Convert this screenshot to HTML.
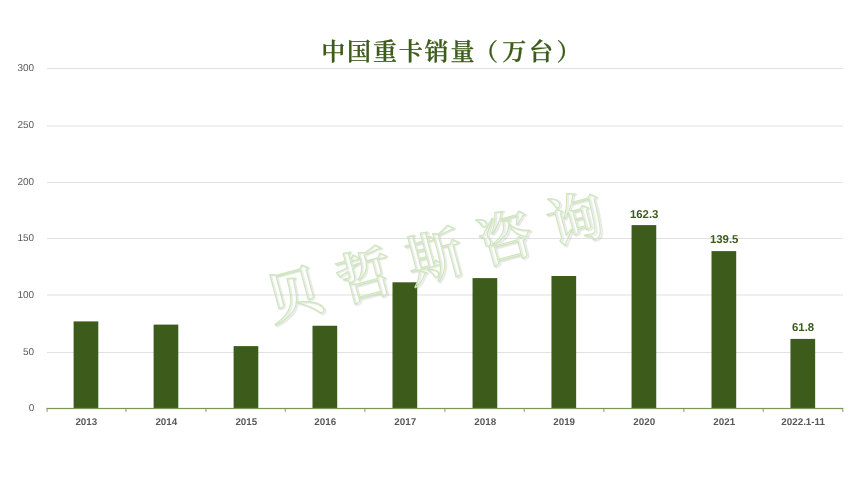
<!DOCTYPE html>
<html lang="zh-CN">
<head>
<meta charset="utf-8">
<title>中国重卡销量（万台）</title>
<style>
html,body{margin:0;padding:0;background:#fff;}
body{width:865px;height:487px;overflow:hidden;}
svg{display:block;}
.yl{text-rendering:geometricPrecision;font-family:"Liberation Sans",sans-serif;font-size:10px;fill:#595959;text-anchor:end;}
.xl{text-rendering:geometricPrecision;font-family:"Liberation Sans",sans-serif;font-size:9.8px;font-weight:bold;fill:#595959;text-anchor:middle;}
.dl{text-rendering:geometricPrecision;font-family:"Liberation Sans",sans-serif;font-size:11.4px;font-weight:bold;fill:#3d5c1c;text-anchor:middle;}
.ttl{font-family:"Liberation Serif","Noto Serif CJK SC",serif;font-weight:600;font-size:24px;fill:#3d5c1c;stroke:#3d5c1c;stroke-width:0.25;}
.wm{font-family:"Liberation Serif","Noto Serif CJK SC",serif;font-weight:600;font-size:56px;fill:#ffffff;fill-opacity:.12;stroke:#cde6ba;stroke-width:1.15;}
.wms{font-family:"Liberation Serif","Noto Serif CJK SC",serif;font-weight:600;font-size:56px;fill:none;stroke:#9a9a9a;stroke-opacity:.26;stroke-width:1.6;}
</style>
</head>
<body>
<svg width="865" height="487" viewBox="0 0 865 487">
<defs><filter id="wb" x="-5%" y="-20%" width="110%" height="140%"><feGaussianBlur stdDeviation="0.7"/></filter></defs>
<rect x="0" y="0" width="865" height="487" fill="#ffffff"/>
<rect x="47" y="68.0" width="796" height="1" fill="#e1e1e1"/>
<rect x="47" y="125.0" width="796" height="2" fill="#efefef"/>
<rect x="47" y="182.0" width="796" height="1" fill="#e1e1e1"/>
<rect x="47" y="238.0" width="796" height="1" fill="#e1e1e1"/>
<rect x="47" y="294.0" width="796" height="2" fill="#efefef"/>
<rect x="47" y="352.0" width="796" height="1" fill="#e1e1e1"/>
<text class="yl" x="34.2" y="411">0</text>
<text class="yl" x="34.2" y="355">50</text>
<text class="yl" x="34.2" y="298">100</text>
<text class="yl" x="34.2" y="241">150</text>
<text class="yl" x="34.2" y="185">200</text>
<text class="yl" x="34.2" y="128">250</text>
<text class="yl" x="34.2" y="71">300</text>
<g transform="scale(1.0,1)"><text class="ttl" text-anchor="middle" x="333.20 359.05 384.90 410.75 436.60 462.45 486.10 514.15 540.90 568.45" y="59.6">中国重卡销量（万台）</text></g>
<rect x="73.60" y="321.40" width="24.7" height="87.10" fill="#3d5c1c"/>
<rect x="153.60" y="324.60" width="24.7" height="83.90" fill="#3d5c1c"/>
<rect x="233.60" y="346.10" width="24.7" height="62.40" fill="#3d5c1c"/>
<rect x="312.50" y="325.75" width="24.7" height="82.75" fill="#3d5c1c"/>
<rect x="392.50" y="282.30" width="24.7" height="126.20" fill="#3d5c1c"/>
<rect x="472.55" y="278.10" width="24.7" height="130.40" fill="#3d5c1c"/>
<rect x="551.45" y="276.00" width="24.7" height="132.50" fill="#3d5c1c"/>
<rect x="631.55" y="225.10" width="24.7" height="183.40" fill="#3d5c1c"/>
<rect x="711.50" y="251.10" width="24.7" height="157.40" fill="#3d5c1c"/>
<rect x="790.45" y="338.90" width="24.7" height="69.60" fill="#3d5c1c"/>
<rect x="46.5" y="407.9" width="796.8" height="1.2" fill="#7b9558"/>
<rect x="46.40" y="409.0" width="1.4" height="2.9" fill="#a3b78d"/>
<rect x="125.25" y="409.0" width="1.4" height="2.9" fill="#a3b78d"/>
<rect x="205.25" y="409.0" width="1.4" height="2.9" fill="#a3b78d"/>
<rect x="284.70" y="409.0" width="1.4" height="2.9" fill="#a3b78d"/>
<rect x="364.15" y="409.0" width="1.4" height="2.9" fill="#a3b78d"/>
<rect x="444.18" y="409.0" width="1.4" height="2.9" fill="#a3b78d"/>
<rect x="523.65" y="409.0" width="1.4" height="2.9" fill="#a3b78d"/>
<rect x="603.15" y="409.0" width="1.4" height="2.9" fill="#a3b78d"/>
<rect x="683.17" y="409.0" width="1.4" height="2.9" fill="#a3b78d"/>
<rect x="762.62" y="409.0" width="1.4" height="2.9" fill="#a3b78d"/>
<rect x="842.00" y="409.0" width="1.4" height="2.9" fill="#a3b78d"/>
<text class="xl" x="86.30" y="0" transform="translate(0 425.2) scale(1 1)">2013</text>
<text class="xl" x="166.30" y="0" transform="translate(0 425.2) scale(1 1)">2014</text>
<text class="xl" x="246.30" y="0" transform="translate(0 425.2) scale(1 1)">2015</text>
<text class="xl" x="325.20" y="0" transform="translate(0 425.2) scale(1 1)">2016</text>
<text class="xl" x="405.20" y="0" transform="translate(0 425.2) scale(1 1)">2017</text>
<text class="xl" x="485.25" y="0" transform="translate(0 425.2) scale(1 1)">2018</text>
<text class="xl" x="564.15" y="0" transform="translate(0 425.2) scale(1 1)">2019</text>
<text class="xl" x="644.25" y="0" transform="translate(0 425.2) scale(1 1)">2020</text>
<text class="xl" x="724.20" y="0" transform="translate(0 425.2) scale(1 1)">2021</text>
<text class="xl" x="803.15" y="0" transform="translate(0 425.2) scale(1 1)">2022.1-11</text>
<text class="dl" x="644.20" y="218.10">162.3</text>
<text class="dl" x="724.15" y="243.10">139.5</text>
<text class="dl" x="803.10" y="331.20">61.8</text>
<g transform="translate(434.5,257.0) rotate(-15)">
<text class="wms" text-anchor="middle" x="-145.4 -72.7 0.0 72.7 145.4" y="20" transform="translate(1.3,0.9)" filter="url(#wb)">贝哲斯咨询</text>
<text class="wm" text-anchor="middle" x="-145.4 -72.7 0.0 72.7 145.4" y="20">贝哲斯咨询</text>
</g>
</svg>
</body>
</html>
